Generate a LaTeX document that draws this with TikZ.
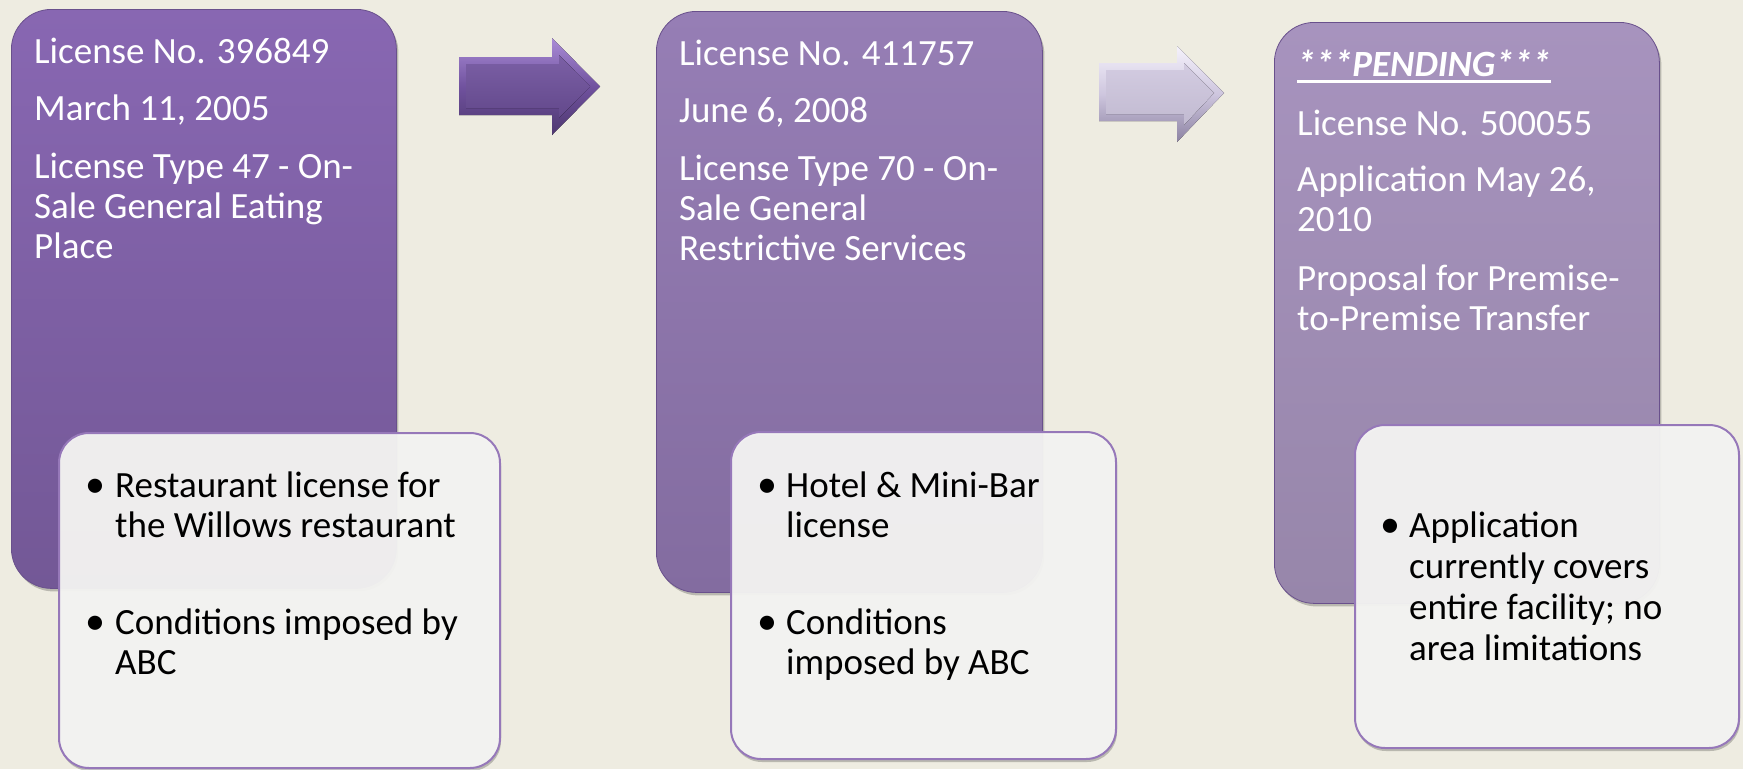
\documentclass[tikz,border=0pt]{standalone}
\usepackage{fontspec}
\setmainfont{Carlito}
\usetikzlibrary{shadows}
\definecolor{bg}{RGB}{238,236,225}
\definecolor{pAtop}{RGB}{136,103,178}
\definecolor{pAbot}{RGB}{115,88,150}
\definecolor{pBtop}{RGB}{150,126,181}
\definecolor{pBbot}{RGB}{131,108,160}
\definecolor{pCtop}{RGB}{167,147,190}
\definecolor{pCbot}{RGB}{151,134,170}
\definecolor{pedge}{RGB}{105,80,140}
\definecolor{wfill}{RGB}{246,246,244}
\definecolor{wedge}{RGB}{150,120,185}
\definecolor{aAmain}{RGB}{112,82,158}
\definecolor{aAhi}{RGB}{170,140,215}
\definecolor{aAdk}{RGB}{78,55,112}
\definecolor{aBmain}{RGB}{206,198,222}
\definecolor{aBhi}{RGB}{245,242,252}
\definecolor{aBdk}{RGB}{140,130,162}
\tikzset{
  pbox/.style={rectangle, rounded corners=40pt, inner sep=0pt, anchor=north west,
    draw=pedge, line width=0.8pt,
    drop shadow={shadow xshift=2pt, shadow yshift=-3pt, opacity=0.22, fill=black}},
  wbox/.style={rectangle, rounded corners=30pt, inner sep=0pt, anchor=north west,
    draw=wedge, line width=2pt, fill=wfill, fill opacity=0.95,
    drop shadow={shadow xshift=1pt, shadow yshift=-3pt, opacity=0.22, fill=black}},
  wt/.style={font=\fontsize{37}{40}\selectfont, text=white, anchor=base west, inner sep=0pt},
  bt/.style={font=\fontsize{37}{40}\selectfont, text=black, anchor=base west, inner sep=0pt},
  bul/.style={font=\fontsize{40}{40}\selectfont, text=black, anchor=base, inner sep=0pt},
}
\begin{document}
\begin{tikzpicture}[x=1pt,y=-1pt]
\useasboundingbox (0,0) rectangle (1743,769);
\fill[bg] (0,0) rectangle (1743,769);

% purple boxes
\node[pbox, top color=pAtop, bottom color=pAbot, minimum width=385pt, minimum height=579pt] (b1) at (11,9) {};
\node[pbox, top color=pBtop, bottom color=pBbot, minimum width=386pt, minimum height=581pt] (b2) at (656,11) {};
\node[pbox, top color=pCtop, bottom color=pCbot, minimum width=385pt, minimum height=581pt] (b3) at (1274,22) {};

% block arrows
\fill[top color=aAhi, bottom color=aAdk, middle color=aAmain]
  (459,57) -- (552,57) -- (552,38) -- (600,86.5) -- (552,135) -- (552,115) -- (459,115) -- cycle;
\fill[top color=aAmain!92!white, bottom color=aAmain!88!black]
  (466,64) -- (559,64) -- (559,55) -- (590,86.5) -- (559,118) -- (559,108) -- (466,108) -- cycle;
\fill[top color=aBhi, bottom color=aBdk, middle color=aBmain]
  (1099,63) -- (1177,63) -- (1177,46) -- (1224,93) -- (1177,142) -- (1177,121) -- (1099,121) -- cycle;
\fill[top color=aBmain!90!white, bottom color=aBmain!94!black]
  (1106,70) -- (1184,70) -- (1184,63) -- (1214,93) -- (1184,125) -- (1184,114) -- (1106,114) -- cycle;

% box 1 text
\node[wt] (t11) at (34,63) {License No. 396849};
\node[wt] (t12) at (34,120) {March 11, 2005};
\node[wt] (t13) at (34,178) {License Type 47 - On-};
\node[wt] (t14) at (34,218) {Sale General Eating};
\node[wt] (t15) at (34,258) {Place};

% box 2 text
\node[wt] (t21) at (679,65) {License No. 411757};
\node[wt] (t22) at (679,122) {June 6, 2008};
\node[wt] (t23) at (679,180) {License Type 70 - On-};
\node[wt] (t24) at (679,220) {Sale General};
\node[wt] (t25) at (679,260) {Restrictive Services};

% box 3 text
\node[wt, font=\fontsize{37}{40}\selectfont\bfseries\itshape] (t31) at (1297,76) {***PENDING***};
\draw[white, line width=3pt] ([yshift=-5pt]t31.base west) -- ([yshift=-5pt]t31.base east);
\node[wt] (t32) at (1297,135) {License No. 500055};
\node[wt] (t33) at (1297,191) {Application May 26,};
\node[wt] (t34) at (1297,231) {2010};
\node[wt] (t35) at (1297,290) {Proposal for Premise-};
\node[wt] (t36) at (1297,330) {to-Premise Transfer};

% white boxes
\node[wbox, minimum width=441pt, minimum height=335pt] (w1) at (58,432) {};
\node[wbox, minimum width=385pt, minimum height=327pt] (w2) at (730,431) {};
\node[wbox, minimum width=384pt, minimum height=323pt] (w3) at (1354,424) {};

% white box 1 text
\node[bul] (u11) at (95,497) {•};
\node[bt] (s11) at (115,497) {Restaurant license for};
\node[bt] (s12) at (115,537) {the Willows restaurant};
\node[bul] (u12) at (95,634) {•};
\node[bt] (s13) at (115,634) {Conditions imposed by};
\node[bt] (s14) at (115,674) {ABC};

% white box 2 text
\node[bul] (u21) at (767,497) {•};
\node[bt] (s21) at (786,497) {Hotel \& Mini-Bar};
\node[bt] (s22) at (786,537) {license};
\node[bul] (u22) at (767,634) {•};
\node[bt] (s23) at (786,634) {Conditions};
\node[bt] (s24) at (786,674) {imposed by ABC};

% white box 3 text
\node[bul] (u31) at (1390,537) {•};
\node[bt] (s31) at (1409,537) {Application};
\node[bt] (s32) at (1409,578) {currently covers};
\node[bt] (s33) at (1409,619) {entire facility; no};
\node[bt] (s34) at (1409,660) {area limitations};
\end{tikzpicture}
\end{document}
